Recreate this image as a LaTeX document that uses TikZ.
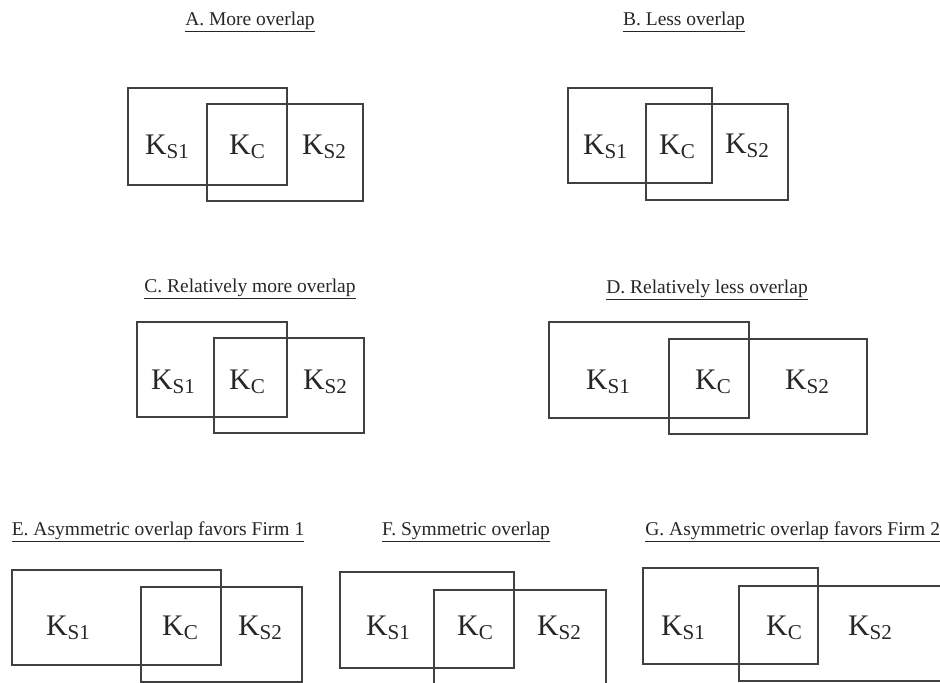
\documentclass[tikz,border=0pt]{standalone}
\usepackage{fontspec}
\setmainfont{Liberation Serif}
\usepackage{graphicx}

\newcommand{\kk}[1]{K\raisebox{-2pt}{\fontsize{12}{12}\selectfont #1}}

\tikzset{
  box/.style={draw=black!75,line width=.6pt},
  klabel/.style={font=\fontsize{17}{17}\selectfont,text=black!85,inner sep=0pt},
  title/.style={font=\fontsize{11.1}{14}\selectfont,text=black!85,anchor=base,inner sep=0pt}
}

\begin{document}
\begin{tikzpicture}[x=0.02cm,y=-0.02cm]
  \clip (0,0) rectangle (940,683);

  % A
  \node (ta) [title] at (250,25) {\underline{A. More overlap}};
  \draw[box] (128,88) rectangle (287,185) (207,104) rectangle (363,201);
  \node (as1) [klabel] at (167,147) {\kk{S1}};
  \node (ac) [klabel] at (247,147) {\kk{C}};
  \node (as2) [klabel] at (324,147) {\kk{S2}};

  % B
  \node (tb) [title] at (684,25) {\underline{B. Less overlap}};
  \draw[box] (568,88) rectangle (712,183) (646,104) rectangle (788,200);
  \node (bs1) [klabel] at (605,147) {\kk{S1}};
  \node (bc) [klabel] at (677,147) {\kk{C}};
  \node (bs2) [klabel] at (747,146) {\kk{S2}};

  % C
  \node (tc) [title] at (250,292) {\underline{C. Relatively more overlap}};
  \draw[box] (137,322) rectangle (287,417) (214,338) rectangle (364,433);
  \node (cs1) [klabel] at (173,382) {\kk{S1}};
  \node (cc) [klabel] at (247,382) {\kk{C}};
  \node (cs2) [klabel] at (325,382) {\kk{S2}};

  % D
  \node (td) [title] at (707,293) {\underline{D. Relatively less overlap}};
  \draw[box] (549,322) rectangle (749,418) (669,339) rectangle (867,434);
  \node (ds1) [klabel] at (608,382) {\kk{S1}};
  \node (dc) [klabel] at (713,382) {\kk{C}};
  \node (ds2) [klabel] at (807,382) {\kk{S2}};

  % E
  \node (te) [title] at (158,535) {\underline{E. Asymmetric overlap favors Firm 1}};
  \draw[box] (12,570) rectangle (221,665) (141,587) rectangle (302,682);
  \node (es1) [klabel] at (68,628) {\kk{S1}};
  \node (ec) [klabel] at (180,628) {\kk{C}};
  \node (es2) [klabel] at (260,628) {\kk{S2}};

  % F
  \node (tf) [title] at (466,535) {\underline{F. Symmetric overlap}};
  \draw[box] (340,572) rectangle (514,668) (434,590) rectangle (606,700);
  \node (fs1) [klabel] at (388,628) {\kk{S1}};
  \node (fc) [klabel] at (475,628) {\kk{C}};
  \node (fs2) [klabel] at (559,628) {\kk{S2}};

  % G
  \node (tg) [title,anchor=base west] at (645,535) {\underline{G. Asymmetric overlap favors Firm 2}};
  \draw[box] (643,568) rectangle (818,664) (739,586) rectangle (960,681);
  \node (gs1) [klabel] at (683,628) {\kk{S1}};
  \node (gc) [klabel] at (784,628) {\kk{C}};
  \node (gs2) [klabel] at (870,628) {\kk{S2}};
\end{tikzpicture}
\end{document}
